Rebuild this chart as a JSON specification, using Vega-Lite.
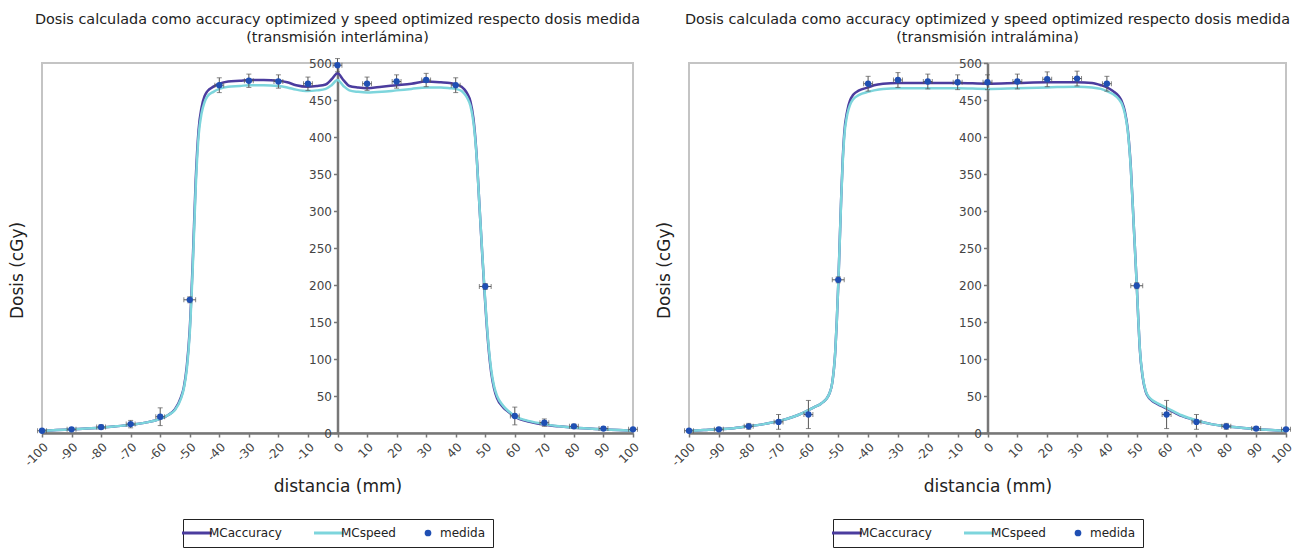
{
  "$schema": "https://vega.github.io/schema/vega-lite/v6.json",
  "background": "white",
  "padding": {"left": 7, "top": 10, "right": 5, "bottom": 2},
  "spacing": 12,
  "config": {
    "font": "DejaVu Sans",
    "view": {"stroke": "#c4c4c4", "strokeWidth": 2},
    "title": {"font": "DejaVu Sans", "fontSize": 14.4, "fontWeight": "normal", "color": "#222", "anchor": "middle", "frame": "group", "offset": 12, "lineHeight": 18},
    "axis": {"labelFont": "DejaVu Sans", "labelFontSize": 12, "labelColor": "#444", "titleFont": "DejaVu Sans", "titleFontSize": 17, "titleFontWeight": "normal", "titleColor": "#222", "grid": false, "domainColor": "#777", "domainWidth": 2.5, "tickColor": "#777", "tickSize": 4, "tickWidth": 1.5, "labelOverlap": false},
    "legend": {"layout": {"bottom": {"anchor": "middle"}}, "labelFont": "DejaVu Sans"}
  },
  "resolve": {"scale": {"color": "independent"}, "legend": {"color": "independent"}},
  "datasets": {
    "inter_calc": [
      {"x": -100, "dosis": 3, "serie": "MCaccuracy"}, {"x": -95, "dosis": 4, "serie": "MCaccuracy"}, {"x": -90, "dosis": 5, "serie": "MCaccuracy"}, {"x": -85, "dosis": 6, "serie": "MCaccuracy"}, {"x": -80, "dosis": 7, "serie": "MCaccuracy"}, {"x": -75, "dosis": 9, "serie": "MCaccuracy"}, {"x": -70, "dosis": 11, "serie": "MCaccuracy"}, {"x": -65, "dosis": 14, "serie": "MCaccuracy"}, {"x": -60, "dosis": 19, "serie": "MCaccuracy"}, {"x": -57, "dosis": 25, "serie": "MCaccuracy"}, {"x": -55, "dosis": 32, "serie": "MCaccuracy"}, {"x": -53, "dosis": 48, "serie": "MCaccuracy"}, {"x": -52, "dosis": 62, "serie": "MCaccuracy"}, {"x": -51, "dosis": 90, "serie": "MCaccuracy"}, {"x": -50, "dosis": 140, "serie": "MCaccuracy"}, {"x": -49, "dosis": 230, "serie": "MCaccuracy"}, {"x": -48, "dosis": 340, "serie": "MCaccuracy"}, {"x": -47, "dosis": 410, "serie": "MCaccuracy"}, {"x": -46, "dosis": 440, "serie": "MCaccuracy"}, {"x": -45, "dosis": 455, "serie": "MCaccuracy"}, {"x": -44, "dosis": 462, "serie": "MCaccuracy"}, {"x": -42, "dosis": 468, "serie": "MCaccuracy"}, {"x": -40, "dosis": 472, "serie": "MCaccuracy"}, {"x": -37, "dosis": 475, "serie": "MCaccuracy"}, {"x": -33, "dosis": 476, "serie": "MCaccuracy"}, {"x": -30, "dosis": 477, "serie": "MCaccuracy"}, {"x": -25, "dosis": 477, "serie": "MCaccuracy"}, {"x": -20, "dosis": 476, "serie": "MCaccuracy"}, {"x": -17, "dosis": 474, "serie": "MCaccuracy"}, {"x": -14, "dosis": 470, "serie": "MCaccuracy"}, {"x": -10, "dosis": 468, "serie": "MCaccuracy"}, {"x": -7, "dosis": 469, "serie": "MCaccuracy"}, {"x": -4, "dosis": 471, "serie": "MCaccuracy"}, {"x": -2, "dosis": 478, "serie": "MCaccuracy"}, {"x": 0, "dosis": 486, "serie": "MCaccuracy"}, {"x": 2, "dosis": 477, "serie": "MCaccuracy"}, {"x": 4, "dosis": 469, "serie": "MCaccuracy"}, {"x": 7, "dosis": 467, "serie": "MCaccuracy"}, {"x": 10, "dosis": 466, "serie": "MCaccuracy"}, {"x": 15, "dosis": 468, "serie": "MCaccuracy"}, {"x": 20, "dosis": 470, "serie": "MCaccuracy"}, {"x": 25, "dosis": 472, "serie": "MCaccuracy"}, {"x": 30, "dosis": 475, "serie": "MCaccuracy"}, {"x": 35, "dosis": 474, "serie": "MCaccuracy"}, {"x": 38, "dosis": 473, "serie": "MCaccuracy"}, {"x": 40, "dosis": 471, "serie": "MCaccuracy"}, {"x": 42, "dosis": 468, "serie": "MCaccuracy"}, {"x": 43, "dosis": 464, "serie": "MCaccuracy"}, {"x": 44, "dosis": 458, "serie": "MCaccuracy"}, {"x": 45, "dosis": 448, "serie": "MCaccuracy"}, {"x": 46, "dosis": 425, "serie": "MCaccuracy"}, {"x": 47, "dosis": 380, "serie": "MCaccuracy"}, {"x": 48, "dosis": 310, "serie": "MCaccuracy"}, {"x": 49, "dosis": 240, "serie": "MCaccuracy"}, {"x": 50, "dosis": 175, "serie": "MCaccuracy"}, {"x": 51, "dosis": 120, "serie": "MCaccuracy"}, {"x": 52, "dosis": 82, "serie": "MCaccuracy"}, {"x": 53, "dosis": 60, "serie": "MCaccuracy"}, {"x": 54, "dosis": 47, "serie": "MCaccuracy"}, {"x": 56, "dosis": 35, "serie": "MCaccuracy"}, {"x": 58, "dosis": 28, "serie": "MCaccuracy"}, {"x": 60, "dosis": 22, "serie": "MCaccuracy"}, {"x": 65, "dosis": 15, "serie": "MCaccuracy"}, {"x": 70, "dosis": 11, "serie": "MCaccuracy"}, {"x": 75, "dosis": 9, "serie": "MCaccuracy"}, {"x": 80, "dosis": 7, "serie": "MCaccuracy"}, {"x": 85, "dosis": 6, "serie": "MCaccuracy"}, {"x": 90, "dosis": 5, "serie": "MCaccuracy"}, {"x": 95, "dosis": 4, "serie": "MCaccuracy"}, {"x": 100, "dosis": 3, "serie": "MCaccuracy"},
      {"x": -100, "dosis": 3, "serie": "MCspeed"}, {"x": -95, "dosis": 4, "serie": "MCspeed"}, {"x": -90, "dosis": 5, "serie": "MCspeed"}, {"x": -85, "dosis": 6, "serie": "MCspeed"}, {"x": -80, "dosis": 7, "serie": "MCspeed"}, {"x": -75, "dosis": 9, "serie": "MCspeed"}, {"x": -70, "dosis": 11, "serie": "MCspeed"}, {"x": -65, "dosis": 14, "serie": "MCspeed"}, {"x": -60, "dosis": 19, "serie": "MCspeed"}, {"x": -57, "dosis": 25, "serie": "MCspeed"}, {"x": -55, "dosis": 31, "serie": "MCspeed"}, {"x": -53, "dosis": 46, "serie": "MCspeed"}, {"x": -52, "dosis": 60, "serie": "MCspeed"}, {"x": -51, "dosis": 86, "serie": "MCspeed"}, {"x": -50, "dosis": 135, "serie": "MCspeed"}, {"x": -49, "dosis": 222, "serie": "MCspeed"}, {"x": -48, "dosis": 330, "serie": "MCspeed"}, {"x": -47, "dosis": 402, "serie": "MCspeed"}, {"x": -46, "dosis": 432, "serie": "MCspeed"}, {"x": -45, "dosis": 447, "serie": "MCspeed"}, {"x": -44, "dosis": 455, "serie": "MCspeed"}, {"x": -42, "dosis": 461, "serie": "MCspeed"}, {"x": -40, "dosis": 465, "serie": "MCspeed"}, {"x": -37, "dosis": 468, "serie": "MCspeed"}, {"x": -33, "dosis": 469, "serie": "MCspeed"}, {"x": -30, "dosis": 470, "serie": "MCspeed"}, {"x": -25, "dosis": 470, "serie": "MCspeed"}, {"x": -20, "dosis": 469, "serie": "MCspeed"}, {"x": -17, "dosis": 467, "serie": "MCspeed"}, {"x": -14, "dosis": 464, "serie": "MCspeed"}, {"x": -10, "dosis": 462, "serie": "MCspeed"}, {"x": -7, "dosis": 463, "serie": "MCspeed"}, {"x": -4, "dosis": 465, "serie": "MCspeed"}, {"x": -2, "dosis": 470, "serie": "MCspeed"}, {"x": 0, "dosis": 477, "serie": "MCspeed"}, {"x": 2, "dosis": 469, "serie": "MCspeed"}, {"x": 4, "dosis": 463, "serie": "MCspeed"}, {"x": 7, "dosis": 461, "serie": "MCspeed"}, {"x": 10, "dosis": 460, "serie": "MCspeed"}, {"x": 15, "dosis": 461, "serie": "MCspeed"}, {"x": 20, "dosis": 463, "serie": "MCspeed"}, {"x": 25, "dosis": 465, "serie": "MCspeed"}, {"x": 30, "dosis": 467, "serie": "MCspeed"}, {"x": 35, "dosis": 467, "serie": "MCspeed"}, {"x": 38, "dosis": 466, "serie": "MCspeed"}, {"x": 40, "dosis": 465, "serie": "MCspeed"}, {"x": 42, "dosis": 462, "serie": "MCspeed"}, {"x": 43, "dosis": 458, "serie": "MCspeed"}, {"x": 44, "dosis": 452, "serie": "MCspeed"}, {"x": 45, "dosis": 442, "serie": "MCspeed"}, {"x": 46, "dosis": 420, "serie": "MCspeed"}, {"x": 47, "dosis": 378, "serie": "MCspeed"}, {"x": 48, "dosis": 310, "serie": "MCspeed"}, {"x": 49, "dosis": 242, "serie": "MCspeed"}, {"x": 50, "dosis": 178, "serie": "MCspeed"}, {"x": 51, "dosis": 124, "serie": "MCspeed"}, {"x": 52, "dosis": 86, "serie": "MCspeed"}, {"x": 53, "dosis": 63, "serie": "MCspeed"}, {"x": 54, "dosis": 50, "serie": "MCspeed"}, {"x": 56, "dosis": 37, "serie": "MCspeed"}, {"x": 58, "dosis": 29, "serie": "MCspeed"}, {"x": 60, "dosis": 23, "serie": "MCspeed"}, {"x": 65, "dosis": 16, "serie": "MCspeed"}, {"x": 70, "dosis": 12, "serie": "MCspeed"}, {"x": 75, "dosis": 9, "serie": "MCspeed"}, {"x": 80, "dosis": 7, "serie": "MCspeed"}, {"x": 85, "dosis": 6, "serie": "MCspeed"}, {"x": 90, "dosis": 5, "serie": "MCspeed"}, {"x": 95, "dosis": 4, "serie": "MCspeed"}, {"x": 100, "dosis": 3, "serie": "MCspeed"}
    ],
    "inter_med": [
      {"x": -100, "dosis": 3, "ex": 1.5, "ey": 1, "serie": "medida"},
      {"x": -90, "dosis": 5, "ex": 1.5, "ey": 2, "serie": "medida"},
      {"x": -80, "dosis": 8, "ex": 1.5, "ey": 3, "serie": "medida"},
      {"x": -70, "dosis": 12, "ex": 1.5, "ey": 5, "serie": "medida"},
      {"x": -60, "dosis": 22, "ex": 1.5, "ey": 12, "serie": "medida"},
      {"x": -50, "dosis": 180, "ex": 2, "ey": 4, "serie": "medida"},
      {"x": -40, "dosis": 470, "ex": 1.5, "ey": 10, "serie": "medida"},
      {"x": -30, "dosis": 476, "ex": 1.5, "ey": 9, "serie": "medida"},
      {"x": -20, "dosis": 475, "ex": 1.5, "ey": 9, "serie": "medida"},
      {"x": -10, "dosis": 472, "ex": 1.5, "ey": 9, "serie": "medida"},
      {"x": 0, "dosis": 497, "ex": 1.5, "ey": 9, "serie": "medida"},
      {"x": 10, "dosis": 472, "ex": 1.5, "ey": 9, "serie": "medida"},
      {"x": 20, "dosis": 475, "ex": 1.5, "ey": 9, "serie": "medida"},
      {"x": 30, "dosis": 477, "ex": 1.5, "ey": 9, "serie": "medida"},
      {"x": 40, "dosis": 470, "ex": 1.5, "ey": 10, "serie": "medida"},
      {"x": 50, "dosis": 198, "ex": 2, "ey": 4, "serie": "medida"},
      {"x": 60, "dosis": 23, "ex": 1.5, "ey": 12, "serie": "medida"},
      {"x": 70, "dosis": 14, "ex": 1.5, "ey": 5, "serie": "medida"},
      {"x": 80, "dosis": 9, "ex": 1.5, "ey": 3, "serie": "medida"},
      {"x": 90, "dosis": 6, "ex": 1.5, "ey": 2, "serie": "medida"},
      {"x": 100, "dosis": 5, "ex": 1.5, "ey": 1, "serie": "medida"}
    ],
    "intra_calc": [
      {"x": -100, "dosis": 3, "serie": "MCaccuracy"}, {"x": -95, "dosis": 4, "serie": "MCaccuracy"}, {"x": -90, "dosis": 5, "serie": "MCaccuracy"}, {"x": -85, "dosis": 6.5, "serie": "MCaccuracy"}, {"x": -80, "dosis": 9, "serie": "MCaccuracy"}, {"x": -75, "dosis": 12, "serie": "MCaccuracy"}, {"x": -70, "dosis": 16, "serie": "MCaccuracy"}, {"x": -65, "dosis": 22, "serie": "MCaccuracy"}, {"x": -62, "dosis": 27, "serie": "MCaccuracy"}, {"x": -60, "dosis": 31, "serie": "MCaccuracy"}, {"x": -58, "dosis": 35, "serie": "MCaccuracy"}, {"x": -56, "dosis": 39, "serie": "MCaccuracy"}, {"x": -55, "dosis": 42, "serie": "MCaccuracy"}, {"x": -54, "dosis": 46, "serie": "MCaccuracy"}, {"x": -53, "dosis": 53, "serie": "MCaccuracy"}, {"x": -52, "dosis": 68, "serie": "MCaccuracy"}, {"x": -51, "dosis": 110, "serie": "MCaccuracy"}, {"x": -50.5, "dosis": 150, "serie": "MCaccuracy"}, {"x": -50, "dosis": 200, "serie": "MCaccuracy"}, {"x": -49.5, "dosis": 260, "serie": "MCaccuracy"}, {"x": -49, "dosis": 320, "serie": "MCaccuracy"}, {"x": -48.5, "dosis": 370, "serie": "MCaccuracy"}, {"x": -48, "dosis": 405, "serie": "MCaccuracy"}, {"x": -47, "dosis": 435, "serie": "MCaccuracy"}, {"x": -46, "dosis": 450, "serie": "MCaccuracy"}, {"x": -45, "dosis": 457, "serie": "MCaccuracy"}, {"x": -43, "dosis": 463, "serie": "MCaccuracy"}, {"x": -40, "dosis": 467, "serie": "MCaccuracy"}, {"x": -38, "dosis": 470, "serie": "MCaccuracy"}, {"x": -35, "dosis": 472, "serie": "MCaccuracy"}, {"x": -30, "dosis": 473, "serie": "MCaccuracy"}, {"x": -20, "dosis": 473, "serie": "MCaccuracy"}, {"x": -10, "dosis": 473, "serie": "MCaccuracy"}, {"x": 0, "dosis": 472, "serie": "MCaccuracy"}, {"x": 10, "dosis": 473, "serie": "MCaccuracy"}, {"x": 20, "dosis": 474, "serie": "MCaccuracy"}, {"x": 30, "dosis": 474, "serie": "MCaccuracy"}, {"x": 35, "dosis": 473, "serie": "MCaccuracy"}, {"x": 38, "dosis": 470, "serie": "MCaccuracy"}, {"x": 40, "dosis": 467, "serie": "MCaccuracy"}, {"x": 42, "dosis": 462, "serie": "MCaccuracy"}, {"x": 44, "dosis": 455, "serie": "MCaccuracy"}, {"x": 45, "dosis": 448, "serie": "MCaccuracy"}, {"x": 46, "dosis": 435, "serie": "MCaccuracy"}, {"x": 47, "dosis": 410, "serie": "MCaccuracy"}, {"x": 48, "dosis": 360, "serie": "MCaccuracy"}, {"x": 49, "dosis": 280, "serie": "MCaccuracy"}, {"x": 50, "dosis": 200, "serie": "MCaccuracy"}, {"x": 50.5, "dosis": 155, "serie": "MCaccuracy"}, {"x": 51, "dosis": 115, "serie": "MCaccuracy"}, {"x": 52, "dosis": 75, "serie": "MCaccuracy"}, {"x": 53, "dosis": 56, "serie": "MCaccuracy"}, {"x": 54, "dosis": 48, "serie": "MCaccuracy"}, {"x": 55, "dosis": 44, "serie": "MCaccuracy"}, {"x": 57, "dosis": 39, "serie": "MCaccuracy"}, {"x": 59, "dosis": 35, "serie": "MCaccuracy"}, {"x": 61, "dosis": 31, "serie": "MCaccuracy"}, {"x": 63, "dosis": 27, "serie": "MCaccuracy"}, {"x": 65, "dosis": 23, "serie": "MCaccuracy"}, {"x": 70, "dosis": 17, "serie": "MCaccuracy"}, {"x": 75, "dosis": 12, "serie": "MCaccuracy"}, {"x": 80, "dosis": 9, "serie": "MCaccuracy"}, {"x": 85, "dosis": 7, "serie": "MCaccuracy"}, {"x": 90, "dosis": 5, "serie": "MCaccuracy"}, {"x": 95, "dosis": 4, "serie": "MCaccuracy"}, {"x": 100, "dosis": 3, "serie": "MCaccuracy"},
      {"x": -100, "dosis": 3, "serie": "MCspeed"}, {"x": -95, "dosis": 4, "serie": "MCspeed"}, {"x": -90, "dosis": 5, "serie": "MCspeed"}, {"x": -85, "dosis": 6.5, "serie": "MCspeed"}, {"x": -80, "dosis": 9, "serie": "MCspeed"}, {"x": -75, "dosis": 12, "serie": "MCspeed"}, {"x": -70, "dosis": 16, "serie": "MCspeed"}, {"x": -65, "dosis": 22, "serie": "MCspeed"}, {"x": -62, "dosis": 27, "serie": "MCspeed"}, {"x": -60, "dosis": 31, "serie": "MCspeed"}, {"x": -58, "dosis": 35, "serie": "MCspeed"}, {"x": -56, "dosis": 39, "serie": "MCspeed"}, {"x": -55, "dosis": 42, "serie": "MCspeed"}, {"x": -54, "dosis": 46, "serie": "MCspeed"}, {"x": -53, "dosis": 53, "serie": "MCspeed"}, {"x": -52, "dosis": 68, "serie": "MCspeed"}, {"x": -51, "dosis": 110, "serie": "MCspeed"}, {"x": -50.5, "dosis": 150, "serie": "MCspeed"}, {"x": -50, "dosis": 200, "serie": "MCspeed"}, {"x": -49.5, "dosis": 258, "serie": "MCspeed"}, {"x": -49, "dosis": 318, "serie": "MCspeed"}, {"x": -48.5, "dosis": 366, "serie": "MCspeed"}, {"x": -48, "dosis": 400, "serie": "MCspeed"}, {"x": -47, "dosis": 430, "serie": "MCspeed"}, {"x": -46, "dosis": 444, "serie": "MCspeed"}, {"x": -45, "dosis": 451, "serie": "MCspeed"}, {"x": -43, "dosis": 457, "serie": "MCspeed"}, {"x": -40, "dosis": 461, "serie": "MCspeed"}, {"x": -38, "dosis": 463, "serie": "MCspeed"}, {"x": -35, "dosis": 465, "serie": "MCspeed"}, {"x": -30, "dosis": 466, "serie": "MCspeed"}, {"x": -20, "dosis": 466, "serie": "MCspeed"}, {"x": -10, "dosis": 466, "serie": "MCspeed"}, {"x": 0, "dosis": 465, "serie": "MCspeed"}, {"x": 10, "dosis": 466, "serie": "MCspeed"}, {"x": 20, "dosis": 467, "serie": "MCspeed"}, {"x": 30, "dosis": 468, "serie": "MCspeed"}, {"x": 35, "dosis": 467, "serie": "MCspeed"}, {"x": 38, "dosis": 465, "serie": "MCspeed"}, {"x": 40, "dosis": 462, "serie": "MCspeed"}, {"x": 42, "dosis": 458, "serie": "MCspeed"}, {"x": 44, "dosis": 451, "serie": "MCspeed"}, {"x": 45, "dosis": 445, "serie": "MCspeed"}, {"x": 46, "dosis": 432, "serie": "MCspeed"}, {"x": 47, "dosis": 408, "serie": "MCspeed"}, {"x": 48, "dosis": 358, "serie": "MCspeed"}, {"x": 49, "dosis": 280, "serie": "MCspeed"}, {"x": 50, "dosis": 200, "serie": "MCspeed"}, {"x": 50.5, "dosis": 155, "serie": "MCspeed"}, {"x": 51, "dosis": 116, "serie": "MCspeed"}, {"x": 52, "dosis": 76, "serie": "MCspeed"}, {"x": 53, "dosis": 57, "serie": "MCspeed"}, {"x": 54, "dosis": 49, "serie": "MCspeed"}, {"x": 55, "dosis": 45, "serie": "MCspeed"}, {"x": 57, "dosis": 40, "serie": "MCspeed"}, {"x": 59, "dosis": 36, "serie": "MCspeed"}, {"x": 61, "dosis": 32, "serie": "MCspeed"}, {"x": 63, "dosis": 28, "serie": "MCspeed"}, {"x": 65, "dosis": 24, "serie": "MCspeed"}, {"x": 70, "dosis": 17, "serie": "MCspeed"}, {"x": 75, "dosis": 12, "serie": "MCspeed"}, {"x": 80, "dosis": 9, "serie": "MCspeed"}, {"x": 85, "dosis": 7, "serie": "MCspeed"}, {"x": 90, "dosis": 5, "serie": "MCspeed"}, {"x": 95, "dosis": 4, "serie": "MCspeed"}, {"x": 100, "dosis": 3, "serie": "MCspeed"}
    ],
    "intra_med": [
      {"x": -100, "dosis": 3, "ex": 1.5, "ey": 1, "serie": "medida"},
      {"x": -90, "dosis": 5, "ex": 1.5, "ey": 2, "serie": "medida"},
      {"x": -80, "dosis": 9, "ex": 1.5, "ey": 4, "serie": "medida"},
      {"x": -70, "dosis": 15, "ex": 1.5, "ey": 10, "serie": "medida"},
      {"x": -60, "dosis": 25, "ex": 1.5, "ey": 19, "serie": "medida"},
      {"x": -50, "dosis": 207, "ex": 2, "ey": 4, "serie": "medida"},
      {"x": -40, "dosis": 472, "ex": 1.5, "ey": 10, "serie": "medida"},
      {"x": -30, "dosis": 477, "ex": 1.5, "ey": 10, "serie": "medida"},
      {"x": -20, "dosis": 475, "ex": 1.5, "ey": 10, "serie": "medida"},
      {"x": -10, "dosis": 474, "ex": 1.5, "ey": 10, "serie": "medida"},
      {"x": 0, "dosis": 474, "ex": 1.5, "ey": 10, "serie": "medida"},
      {"x": 10, "dosis": 475, "ex": 1.5, "ey": 10, "serie": "medida"},
      {"x": 20, "dosis": 478, "ex": 1.5, "ey": 10, "serie": "medida"},
      {"x": 30, "dosis": 479, "ex": 1.5, "ey": 10, "serie": "medida"},
      {"x": 40, "dosis": 472, "ex": 1.5, "ey": 10, "serie": "medida"},
      {"x": 50, "dosis": 199, "ex": 2, "ey": 4, "serie": "medida"},
      {"x": 60, "dosis": 25, "ex": 1.5, "ey": 19, "serie": "medida"},
      {"x": 70, "dosis": 15, "ex": 1.5, "ey": 10, "serie": "medida"},
      {"x": 80, "dosis": 9, "ex": 1.5, "ey": 4, "serie": "medida"},
      {"x": 90, "dosis": 6, "ex": 1.5, "ey": 2, "serie": "medida"},
      {"x": 100, "dosis": 5, "ex": 1.5, "ey": 1, "serie": "medida"}
    ]
  },
  "hconcat": [
    {
      "title": {"text": ["Dosis calculada como accuracy optimized y speed optimized respecto dosis medida", "(transmisión interlámina)"]},
      "width": 591,
      "height": 370,
      "encoding": {
        "x": {"field": "x", "type": "quantitative", "title": "distancia (mm)", "scale": {"domain": [-100, 100], "nice": false, "zero": false},
              "axis": {"values": [-100, -90, -80, -70, -60, -50, -40, -30, -20, -10, 0, 10, 20, 30, 40, 50, 60, 70, 80, 90, 100], "labelOverlap": false, "labelAngle": -45, "labelExpr": "toString(datum.value)", "labelPadding": 4, "titlePadding": 10}},
        "y": {"field": "dosis", "type": "quantitative", "title": "Dosis (cGy)", "scale": {"domain": [0, 500], "nice": false},
              "axis": {"offset": -295.5, "values": [0, 50, 100, 150, 200, 250, 300, 350, 400, 450, 500], "labelOverlap": false, "labelPadding": 2, "titleX": -311, "titleY": 207, "titleAngle": -90, "titleBaseline": "bottom", "titleAlign": "center"}}
      },
      "layer": [
        {
          "data": {"name": "inter_calc"},
          "mark": {"type": "line", "interpolate": "monotone", "strokeWidth": 2.5},
          "encoding": {
            "color": {"field": "serie", "type": "nominal",
                      "scale": {"domain": ["MCaccuracy", "MCspeed", "medida"], "range": ["#4b3c9e", "#7dd5dc", "#1f4fb3"]},
                      "legend": {"title": null, "orient": "bottom", "direction": "horizontal", "strokeColor": "#222", "padding": 8, "offset": 24, "symbolSize": 900, "symbolStrokeWidth": 3, "labelFontSize": 12, "labelColor": "#222", "columnPadding": 26, "labelOffset": 6,
                                 "encode": {"symbols": {"update": {
                                   "shape": {"signal": "datum.value === 'medida' ? 'circle' : 'stroke'"},
                                   "size": {"signal": "datum.value === 'medida' ? 45 : 900"},
                                   "strokeWidth": {"signal": "datum.value === 'medida' ? 0 : 3"},
                                   "fill": {"signal": "datum.value === 'medida' ? '#1f4fb3' : 'transparent'"},
                                   "stroke": {"signal": "datum.value === 'MCaccuracy' ? '#4b3c9e' : datum.value === 'MCspeed' ? '#7dd5dc' : '#1f4fb3'"}
                                 }}}}}
          }
        },
        {
          "data": {"name": "inter_med"},
          "mark": {"type": "errorbar", "ticks": {"size": 5}, "color": "#555", "thickness": 1},
          "encoding": {"yError": {"field": "ey"}}
        },
        {
          "data": {"name": "inter_med"},
          "mark": {"type": "errorbar", "ticks": {"size": 5}, "color": "#555", "thickness": 1},
          "encoding": {"xError": {"field": "ex"}}
        },
        {
          "data": {"name": "inter_med"},
          "mark": {"type": "point", "filled": true, "shape": "circle", "size": 40, "opacity": 1},
          "encoding": {"color": {"field": "serie", "type": "nominal"}}
        }
      ]
    },
    {
      "title": {"text": ["Dosis calculada como accuracy optimized y speed optimized respecto dosis medida", "(transmisión intralámina)"]},
      "width": 597,
      "height": 370,
      "encoding": {
        "x": {"field": "x", "type": "quantitative", "title": "distancia (mm)", "scale": {"domain": [-100, 100], "nice": false, "zero": false},
              "axis": {"values": [-100, -90, -80, -70, -60, -50, -40, -30, -20, -10, 0, 10, 20, 30, 40, 50, 60, 70, 80, 90, 100], "labelOverlap": false, "labelAngle": -45, "labelExpr": "toString(datum.value)", "labelPadding": 4, "titlePadding": 10}},
        "y": {"field": "dosis", "type": "quantitative", "title": "Dosis (cGy)", "scale": {"domain": [0, 500], "nice": false},
              "axis": {"offset": -298.5, "values": [0, 50, 100, 150, 200, 250, 300, 350, 400, 450, 500], "labelOverlap": false, "labelPadding": 2, "titleX": -314, "titleY": 207, "titleAngle": -90, "titleBaseline": "bottom", "titleAlign": "center"}}
      },
      "layer": [
        {
          "data": {"name": "intra_calc"},
          "mark": {"type": "line", "interpolate": "monotone", "strokeWidth": 2.5},
          "encoding": {
            "color": {"field": "serie", "type": "nominal",
                      "scale": {"domain": ["MCaccuracy", "MCspeed", "medida"], "range": ["#4b3c9e", "#7dd5dc", "#1f4fb3"]},
                      "legend": {"title": null, "orient": "bottom", "direction": "horizontal", "strokeColor": "#222", "padding": 8, "offset": 24, "symbolSize": 900, "symbolStrokeWidth": 3, "labelFontSize": 12, "labelColor": "#222", "columnPadding": 26, "labelOffset": 6,
                                 "encode": {"symbols": {"update": {
                                   "shape": {"signal": "datum.value === 'medida' ? 'circle' : 'stroke'"},
                                   "size": {"signal": "datum.value === 'medida' ? 45 : 900"},
                                   "strokeWidth": {"signal": "datum.value === 'medida' ? 0 : 3"},
                                   "fill": {"signal": "datum.value === 'medida' ? '#1f4fb3' : 'transparent'"},
                                   "stroke": {"signal": "datum.value === 'MCaccuracy' ? '#4b3c9e' : datum.value === 'MCspeed' ? '#7dd5dc' : '#1f4fb3'"}
                                 }}}}}
          }
        },
        {
          "data": {"name": "intra_med"},
          "mark": {"type": "errorbar", "ticks": {"size": 5}, "color": "#555", "thickness": 1},
          "encoding": {"yError": {"field": "ey"}}
        },
        {
          "data": {"name": "intra_med"},
          "mark": {"type": "errorbar", "ticks": {"size": 5}, "color": "#555", "thickness": 1},
          "encoding": {"xError": {"field": "ex"}}
        },
        {
          "data": {"name": "intra_med"},
          "mark": {"type": "point", "filled": true, "shape": "circle", "size": 40, "opacity": 1},
          "encoding": {"color": {"field": "serie", "type": "nominal"}}
        }
      ]
    }
  ]
}
